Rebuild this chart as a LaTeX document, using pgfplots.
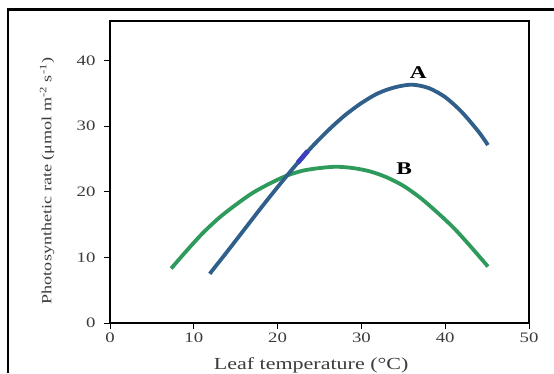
\documentclass[border=0pt]{standalone}
\usepackage{fontspec}
\setmainfont{Liberation Serif}[FakeStretch=1.3]
\usepackage{pgfplots}
\pgfplotsset{compat=1.18}
\definecolor{curveA}{HTML}{2F5F8A}
\definecolor{curveB}{HTML}{2E9A5C}
\definecolor{glitch}{HTML}{3A3FC0}
\definecolor{txt}{HTML}{3C3C3C}
\begin{document}
\begin{tikzpicture}[x=1bp,y=1bp]
\useasboundingbox (0,0) rectangle (554,373);
\fill[white] (0,0) rectangle (554,373);
\begin{axis}[
  at={(110bp,50bp)}, anchor=south west,
  scale only axis, width=419bp, height=302bp,
  xmin=0, xmax=50, ymin=0, ymax=46,
  xtick={0,10,20,30,40,50}, ytick={0,10,20,30,40},
  tick pos=left, tick align=outside,
  major tick length=6bp,
  every tick/.style={black, line width=0.9bp},
  axis line style={black, line width=1.1bp},
  /pgf/number format/assume math mode=true,
  ticklabel style={font=\fontsize{14.5}{16}\selectfont, text=txt},
  yticklabel style={xshift=-5bp},
  xlabel={Leaf temperature (\textdegree C)},
  ylabel={Photosynthetic rate (μmol m\textsuperscript{-2} s\textsuperscript{-1})},
  xlabel style={font=\fontsize{17}{19}\selectfont, text=txt, at={(axis description cs:0.48,-0.139)}, anchor=center},
  ylabel style={font=\fontsize{14}{16}\selectfont, text=txt, at={(axis description cs:-0.150,0.47)}, anchor=center},
  clip=false,
]
\addplot[curveB, line width=3.8bp, smooth] coordinates {
 (7.3,8.3) (9,10.8) (11,13.6) (13,16.0) (15,18.0) (17,19.8) (19,21.2)
 (21,22.4) (23,23.2) (25,23.6) (27,23.8) (29,23.6) (31,23.1) (33,22.2)
 (35,20.9) (37,19.1) (39,16.9) (41,14.5) (43,11.7) (45.1,8.6)};
\addplot[curveA, line width=3.8bp, smooth] coordinates {
 (11.9,7.5) (14,10.9) (16,14.2) (18,17.5) (20,20.7) (22,23.8) (24,26.7)
 (26,29.3) (28,31.6) (30,33.5) (32,35.0) (34,35.9) (36,36.3) (38,35.8)
 (40,34.4) (42,32.1) (44,29.1) (45.1,27.1)};
\addplot[glitch, line width=4.8bp] coordinates {(22.4,24.4) (23.6,26.2)};
\node[font=\bfseries\fontsize{18}{20}\selectfont] at (axis cs:36.8,38.2) {A};
\node[font=\bfseries\fontsize{18}{20}\selectfont] at (axis cs:35.1,23.5) {B};
\end{axis}
\draw[line width=2.5bp,black] (8,0) -- (8,363.5) -- (554,363.5);
\end{tikzpicture}
\end{document}
